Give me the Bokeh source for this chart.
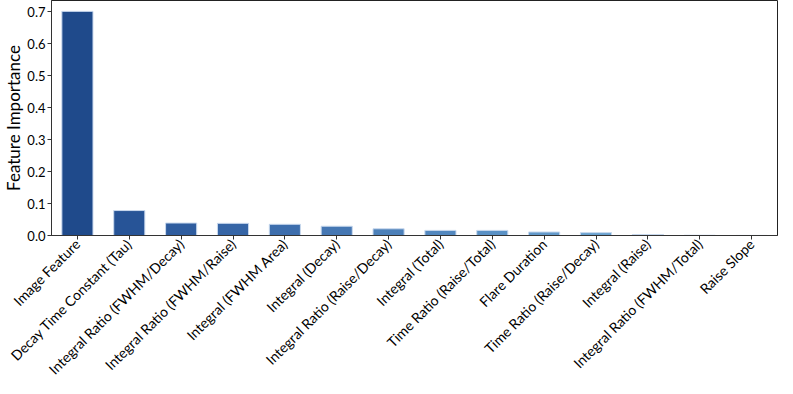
import math
from bokeh.plotting import figure
from bokeh.models import ColumnDataSource, FixedTicker, NumeralTickFormatter, Range1d
from bokeh.embed import file_html
from bokeh.resources import INLINE

features = [
    "Image Feature",
    "Decay Time Constant (Tau)",
    "Integral Ratio (FWHM/Decay)",
    "Integral Ratio (FWHM/Raise)",
    "Integral (FWHM Area)",
    "Integral (Decay)",
    "Integral Ratio (Raise/Decay)",
    "Integral (Total)",
    "Time Ratio (Raise/Total)",
    "Flare Duration",
    "Time Ratio (Raise/Decay)",
    "Integral (Raise)",
    "Integral Ratio (FWHM/Total)",
    "Raise Slope",
]
importance = [0.701, 0.078, 0.039, 0.038, 0.035, 0.029, 0.021, 0.016, 0.016, 0.011, 0.009, 0.003, 0.0008, 0.0002]
bar_colors = [
    "#1f4a8b", "#275497", "#2f5d9f", "#3665a6", "#3d6ead", "#4577b3",
    "#4c80b9", "#5388bf", "#5a91c5", "#6299ca", "#69a1cf", "#4f7fb5",
    "#6aa0d0", "#74a9d6",
]
y_ticks = [0.0, 0.1, 0.2, 0.3, 0.4, 0.5, 0.6, 0.7]

src = ColumnDataSource(dict(x=features, top=importance, color=bar_colors))

FONT = "Lato"
p = figure(
    x_range=features,
    y_range=Range1d(0, 0.735),
    width=781, height=386,
    output_backend="svg", toolbar_location=None,
    min_border_left=20, min_border_right=4, min_border_top=0, min_border_bottom=0,
)
p.vbar(x="x", top="top", width=0.6, source=src, fill_color="color",
       line_color="#c9d9ee", line_width=1)

p.x_range.range_padding = 0.0
p.xgrid.visible = False
p.ygrid.visible = False
p.outline_line_color = "#222222"
p.outline_line_width = 1
p.background_fill_color = "white"
p.border_fill_color = "white"

p.yaxis.ticker = FixedTicker(ticks=y_ticks)
p.yaxis.formatter = NumeralTickFormatter(format="0.0")
p.yaxis.axis_label = "Feature Importance"
p.yaxis.axis_label_text_font = FONT
p.yaxis.axis_label_text_font_style = "normal"
p.yaxis.axis_label_text_font_size = "17px"
p.yaxis.axis_label_text_color = "black"
p.yaxis.axis_label_text_line_height = 1.0
p.yaxis.axis_label_standoff = 0
p.yaxis.minor_tick_line_color = None

for ax in (p.xaxis, p.yaxis):
    ax.major_label_text_font = FONT
    ax.major_label_text_color = "black"
    ax.major_label_text_line_height = 1.0
    ax.axis_line_color = "#333333"
    ax.major_tick_line_color = "#333333"
    ax.major_tick_out = 4
    ax.major_tick_in = 0
    ax.major_label_standoff = 2

p.yaxis.major_label_text_font_size = "13px"
p.xaxis.major_label_text_font_size = "14px"
p.xaxis.major_label_orientation = math.pi / 4
p.xaxis.group_text_font_size = "0px"
p.xaxis.axis_label_standoff = 0

open("out.html", "w").write(file_html(p, INLINE))
